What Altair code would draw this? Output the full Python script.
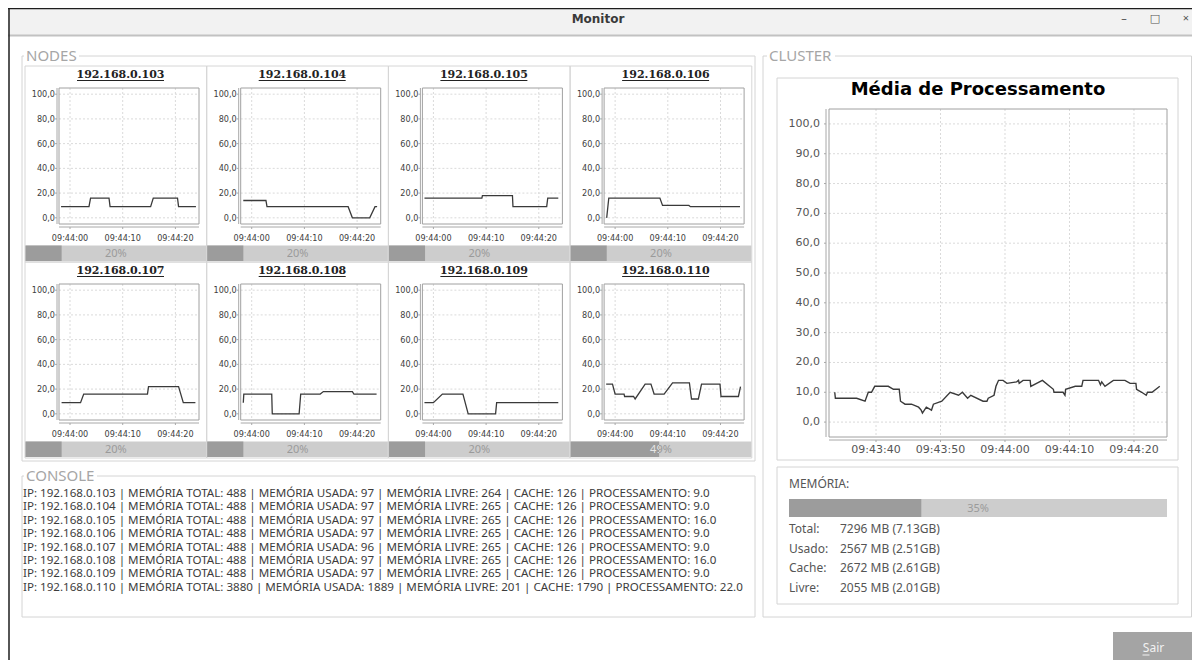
import altair as alt
import pandas as pd
from datetime import datetime, timedelta

# ---------------- data ----------------
NODE_IPS = ["192.168.0.103", "192.168.0.104", "192.168.0.105", "192.168.0.106",
            "192.168.0.107", "192.168.0.108", "192.168.0.109", "192.168.0.110"]
NODE_PCT = [20, 20, 20, 20, 20, 20, 20, 49]

# time in seconds relative to 09:44:00, value = processing %
N103_T = [-1.7, 3.6, 3.9, 7.4, 7.6, 15.3, 15.8, 20.4, 20.6, 23.9]
N103_V = [9, 9, 16, 16, 9, 9, 16, 16, 9, 9]
N104_T = [-1.6, 2.7, 2.9, 18.3, 19.1, 22.4, 23.4, 23.8]
N104_V = [14, 14, 9, 9, 0, 0, 9, 9]
N105_T = [-1.7, 9.2, 9.3, 15.0, 15.1, 21.5, 21.7, 23.7]
N105_V = [16, 16, 18, 18, 9, 9, 16, 16]
N106_T = [-1.6, -1.2, 8.5, 9.0, 14.0, 14.3, 23.7]
N106_V = [0, 16, 16, 10, 10, 9, 9]
N107_T = [-1.6, 2.0, 2.6, 14.7, 14.9, 20.6, 21.5, 23.8]
N107_V = [9, 9, 16, 16, 22, 22, 9, 9]
N108_T = [-1.6, -1.5, 3.8, 3.9, 9.0, 9.3, 13.0, 13.6, 19.1, 19.4, 23.7]
N108_V = [9, 16, 16, 0, 0, 16, 16, 18, 18, 16, 16]
N109_T = [-1.7, 0.0, 1.7, 5.6, 6.6, 11.8, 12.0, 23.7]
N109_V = [9, 9, 16, 16, 0, 0, 9, 9]
N110_T = [-1.7, -0.5, 0.0, 1.7, 1.8, 3.5, 3.8, 5.7, 6.8, 7.4, 9.3, 10.9, 14.1, 14.5,
          15.8, 16.4, 19.9, 20.1, 23.4, 23.8]
N110_V = [24, 24, 16, 16, 14, 14, 12, 24, 24, 16, 16, 25, 25, 12, 12, 24, 24, 14, 14, 22]

CLUSTER_T = [-26.4, -26.3, -23.0, -21.7, -21.2, -20.7, -20.2, -18.1, -17.3, -16.4,
             -16.2, -15.5, -14.5, -13.4, -13.0, -12.8, -12.2, -11.4, -11.1, -9.8,
             -8.5, -7.2, -6.6, -5.8, -5.3, -3.4, -2.8, -2.6, -1.7, -1.4,
             -1.0, -0.3, 0.3, 1.8, 2.1, 2.2, 2.8, 3.9, 4.0, 5.8,
             7.5, 7.6, 9.0, 9.3, 9.4, 10.9, 11.9, 12.1, 14.5, 14.8,
             15.0, 15.5, 16.8, 18.6, 19.4, 20.3, 20.4, 21.2, 21.9, 22.1,
             22.8, 24.0]
CLUSTER_V = [10, 8, 8, 7, 10, 10, 12, 12, 11, 11,
             7, 6, 6, 5, 4, 3, 5, 4, 6, 7,
             10, 9, 10, 8, 9, 7, 7, 8, 9, 12,
             14, 14, 13, 13.5, 14, 13, 14, 14, 12, 14,
             11, 10, 10, 9, 11, 12, 12, 14, 14, 12.5,
             13.5, 12, 14, 14, 13, 13, 11, 10, 9, 10,
             10, 12]

NODE_X_TICKS = ["09:44:00", "09:44:10", "09:44:20"]
NODE_Y_TICKS = [0, 20, 40, 60, 80, 100]
NODE_Y_LABELS = ["0,0", "20,0", "40,0", "60,0", "80,0", "100,0"]
CLUSTER_X_TICKS = ["09:43:40", "09:43:50", "09:44:00", "09:44:10", "09:44:20"]
CLUSTER_Y_TICKS = [0, 10, 20, 30, 40, 50, 60, 70, 80, 90, 100]
CLUSTER_Y_LABELS = ["0,0", "10,0", "20,0", "30,0", "40,0", "50,0",
                    "60,0", "70,0", "80,0", "90,0", "100,0"]

CONSOLE_LINES = [
    "IP: 192.168.0.103 | MEMÓRIA TOTAL: 488 | MEMÓRIA USADA: 97 | MEMÓRIA LIVRE: 264 | CACHE: 126 | PROCESSAMENTO: 9.0",
    "IP: 192.168.0.104 | MEMÓRIA TOTAL: 488 | MEMÓRIA USADA: 97 | MEMÓRIA LIVRE: 265 | CACHE: 126 | PROCESSAMENTO: 9.0",
    "IP: 192.168.0.105 | MEMÓRIA TOTAL: 488 | MEMÓRIA USADA: 97 | MEMÓRIA LIVRE: 265 | CACHE: 126 | PROCESSAMENTO: 16.0",
    "IP: 192.168.0.106 | MEMÓRIA TOTAL: 488 | MEMÓRIA USADA: 97 | MEMÓRIA LIVRE: 265 | CACHE: 126 | PROCESSAMENTO: 9.0",
    "IP: 192.168.0.107 | MEMÓRIA TOTAL: 488 | MEMÓRIA USADA: 96 | MEMÓRIA LIVRE: 265 | CACHE: 126 | PROCESSAMENTO: 9.0",
    "IP: 192.168.0.108 | MEMÓRIA TOTAL: 488 | MEMÓRIA USADA: 97 | MEMÓRIA LIVRE: 265 | CACHE: 126 | PROCESSAMENTO: 16.0",
    "IP: 192.168.0.109 | MEMÓRIA TOTAL: 488 | MEMÓRIA USADA: 97 | MEMÓRIA LIVRE: 265 | CACHE: 126 | PROCESSAMENTO: 9.0",
    "IP: 192.168.0.110 | MEMÓRIA TOTAL: 3880 | MEMÓRIA USADA: 1889 | MEMÓRIA LIVRE: 201 | CACHE: 1790 | PROCESSAMENTO: 22.0",
]

MEM_PCT = 35
MEM_LABELS = ["Total:", "Usado:", "Cache:", "Livre:"]
MEM_VALUES = ["7296 MB (7.13GB)", "2567 MB (2.51GB)", "2672 MB (2.61GB)", "2055 MB (2.01GB)"]

NODE_T = [N103_T, N104_T, N105_T, N106_T, N107_T, N108_T, N109_T, N110_T]
NODE_V = [N103_V, N104_V, N105_V, N106_V, N107_V, N108_V, N109_V, N110_V]

# ---------------- style ----------------
W, H = 1184, 652
UI = "Noto Sans, Open Sans, DejaVu Sans, sans-serif"
NARROW = "Liberation Sans Narrow, DejaVu Sans Condensed, Liberation Sans, sans-serif"
SERIF = "DejaVu Serif, serif"
GRID = "#dadada"
AXIS = "#a8a8a8"
FRAME = "#a0a0a0"
BORDER = "#d4d4d4"
LINE = "#3a3a3a"

BASE = datetime(2024, 1, 1, 9, 44, 0)
base = pd.DataFrame({"d": [0]})


def iso(s):
    return (BASE + timedelta(seconds=s)).strftime("%Y-%m-%dT%H:%M:%S.%f")[:-3]


def dtobj(s):
    d = BASE + timedelta(seconds=s)
    return alt.DateTime(year=d.year, month=d.month, date=d.day, hours=d.hour,
                        minutes=d.minute, seconds=d.second,
                        milliseconds=int(d.microsecond // 1000))


def box(x0, y0, x1, y1, fill="#ffffff", stroke=None, sw=1.0, fo=1.0):
    props = dict(fill=fill, fillOpacity=fo)
    if stroke:
        props.update(stroke=stroke, strokeWidth=sw)
    else:
        props["strokeWidth"] = 0
    return alt.Chart(base).mark_rect(**props).encode(
        x=alt.value(x0), x2=alt.value(x1), y=alt.value(y0), y2=alt.value(y1))


def seg(x0, y0, x1, y1, color, sw=1.0):
    return alt.Chart(base).mark_rule(color=color, strokeWidth=sw).encode(
        x=alt.value(x0), x2=alt.value(x1), y=alt.value(y0), y2=alt.value(y1))


def label(x, y, s, size=12, color="#333333", font=UI, weight="normal",
          align="left", baseline="middle", lh=None):
    props = dict(font=font, fontSize=size, color=color, fontWeight=weight,
                 align=align, baseline=baseline)
    if lh:
        props["lineHeight"] = lh
    return alt.Chart(base).mark_text(**props).encode(
        x=alt.value(x), y=alt.value(y), text=alt.value(s))


def titled_border(x0, y0, x1, y1, text, tx0, tx1):
    return [box(x0, y0, x1, y1, fill="#ffffff", stroke=BORDER, fo=0),
            box(tx0, y0 - 2, tx1, y0 + 2, fill="#ffffff"),
            label(tx0 + 2, y0, text, size=15, color="#a6a6a6")]


def time_panel(ts, vs, fx0, fx1, fy0, fy1, tdom, xticks, yticks, ylabels, ax_y, ax_x,
               lfont, lsize, lcolor, xlab_dy, ylab_dx, lw):
    df = pd.DataFrame({"t": [iso(t) for t in ts], "v": vs})
    xs = alt.Scale(domain=[dtobj(tdom[0]), dtobj(tdom[1])], range=[fx0, fx1])
    ys = alt.Scale(domain=[-5, 105], range=[fy1, fy0], nice=False, zero=False)
    gx = pd.DataFrame({"t": ["2024-01-01T" + s for s in xticks], "lbl": xticks})
    gy = pd.DataFrame({"v": yticks, "lbl": ylabels})
    X = alt.X("t:T", scale=xs, axis=None)
    Y = alt.Y("v:Q", scale=ys, axis=None)
    vgrid = alt.Chart(gx).mark_rule(color=GRID, strokeDash=[2, 2], strokeWidth=1).encode(
        x=X, y=alt.value(fy0), y2=alt.value(fy1))
    hgrid = alt.Chart(gy).mark_rule(color=GRID, strokeDash=[2, 2], strokeWidth=1).encode(
        y=Y, x=alt.value(fx0), x2=alt.value(fx1))
    frame = box(fx0, fy0, fx1, fy1, fill="#ffffff", stroke=FRAME, fo=0)
    xline = seg(fx0, ax_y, fx1, ax_y, AXIS)
    yline = seg(ax_x, fy0, ax_x, fy1, AXIS)
    xtick = alt.Chart(gx).mark_rule(color=AXIS, strokeWidth=1).encode(
        x=X, y=alt.value(ax_y), y2=alt.value(ax_y + 2))
    ytick = alt.Chart(gy).mark_rule(color=AXIS, strokeWidth=1).encode(
        y=Y, x=alt.value(ax_x - 2), x2=alt.value(ax_x))
    xlab = alt.Chart(gx).mark_text(font=lfont, fontSize=lsize, color=lcolor,
                                   align="center", baseline="middle").encode(
        x=X, y=alt.value(ax_y + xlab_dy), text="lbl:N")
    ylab = alt.Chart(gy).mark_text(font=lfont, fontSize=lsize, color=lcolor,
                                   align="right", baseline="middle").encode(
        y=Y, x=alt.value(ax_x - ylab_dx), text="lbl:N")
    line = alt.Chart(df).mark_line(color=LINE, strokeWidth=lw).encode(x=X, y=Y)
    return alt.layer(vgrid, hgrid, frame, xline, yline, xtick, ytick, xlab, ylab, line)


def pbar(pct, x0, x1, y0, y1, size=11, bg="#cdcdcd", fg="#9c9c9c", tc="#9a9a9a",
         light="#e6e6e6", text_w=22.0):
    df = pd.DataFrame({"p": [pct], "z": [0]})
    sc = alt.Scale(domain=[0, 100], range=[x0, x1], nice=False, zero=False)
    back = box(x0, y0, x1, y1, fill=bg)
    front = alt.Chart(df).mark_rect(color=fg, strokeWidth=0).encode(
        x=alt.X("z:Q", scale=sc, axis=None), x2="p:Q",
        y=alt.value(y0), y2=alt.value(y1))
    # text colour switches where the filled part ends
    edge = x0 + (x1 - x0) * pct / 100.0
    cx = (x0 + x1) / 2
    f = min(1.0, max(0.0, 0.5 + (edge - cx) / text_w))
    grad = alt.LinearGradient(gradient="linear", x1=0, x2=1, y1=0, y2=0, stops=[
        alt.GradientStop(offset=0, color=light), alt.GradientStop(offset=f, color=light),
        alt.GradientStop(offset=f, color=tc), alt.GradientStop(offset=1, color=tc)])
    txt = alt.Chart(df).transform_calculate(
        lbl="format(datum.p, 'd') + '%'"
    ).mark_text(font=UI, fontSize=size, fill=grad, align="center", baseline="middle").encode(
        x=alt.value(cx), y=alt.value((y0 + y1) / 2 + 0.5), text="lbl:N")
    return [back, front, txt]


layers = []
# window chrome
layers.append(box(0, 0, W, 27, fill="#f2f2f2"))
layers.append(seg(0, 27.5, W, 27.5, "#c2c2c2", 2))
layers.append(seg(1, 0, 1, H, "#1e1e1e", 1.5))
layers.append(seg(0, 0.5, W, 0.5, "#1e1e1e", 1.5))
layers.append(label(590, 11, "Monitor", size=12, color="#3a3a3a", weight="bold",
                    font="DejaVu Sans, sans-serif", align="center"))
layers.append(label(1116, 11, "–", size=11, color="#555555", align="center"))
layers.append(label(1147, 11, "□", size=11, color="#555555", align="center"))
layers.append(label(1178, 11, "×", size=11, color="#555555", align="center"))

# NODES group
layers += titled_border(14, 48, 747, 453, "NODES", 16, 71)
CW = 181.7
for k in range(8):
    col, row = k % 4, k // 4
    cx = 17 + CW * col
    ry = 196 * row
    layers.append(box(cx, 58 + ry, cx + CW, 254 + ry, fill="#ffffff", stroke="#d6d6d6", fo=0))
    layers.append(label(cx + 95.5, 66.5 + ry, NODE_IPS[k], size=11, color="#222222",
                        font=SERIF, weight="bold", align="center"))
    layers.append(seg(cx + 52, 72.5 + ry, cx + 139, 72.5 + ry, "#222222", 1))
    layers.append(time_panel(NODE_T[k], NODE_V[k], cx + 34, cx + 174, 80 + ry, 216 + ry,
                             (-2.09, 24.48), NODE_X_TICKS, NODE_Y_TICKS, NODE_Y_LABELS,
                             219 + ry, cx + 32, NARROW, 9, "#404040", 11, 2, 1.3))
    layers += pbar(NODE_PCT[k], cx + 0.5, cx + CW - 0.5, 237.5 + ry, 253 + ry)

# CONSOLE group
layers += titled_border(14, 468, 747, 609, "CONSOLE", 16, 89)
layers.append(label(15, 486, CONSOLE_LINES, size=11.6, color="#3c3c3c", lh=13.4))

# CLUSTER group
layers += titled_border(755, 48, 1183.5, 609, "CLUSTER", 759, 827)
layers.append(box(769, 70, 1170, 452, fill="#ffffff", stroke=BORDER))
layers.append(label(970, 82, "Média de Processamento", size=18, color="#000000",
                    font="DejaVu Sans, sans-serif", weight="bold", align="center"))
layers.append(time_panel(CLUSTER_T, CLUSTER_V, 821, 1159, 101, 429,
                         (-27.29, 25.12), CLUSTER_X_TICKS, CLUSTER_Y_TICKS, CLUSTER_Y_LABELS,
                         432, 818, "DejaVu Sans, sans-serif", 11, "#555555", 10, 6, 1.4))

# memory panel
layers.append(box(769, 459, 1170, 596, fill="#ffffff", stroke=BORDER))
layers.append(label(781, 476, "MEMÓRIA:", size=12, color="#555555"))
layers += pbar(MEM_PCT, 781, 1159, 491, 509, size=11)
layers.append(label(781, 521, MEM_LABELS, size=12, color="#555555", lh=19.5))
layers.append(label(832, 521, MEM_VALUES, size=12, color="#555555", lh=19.5))

# button
layers.append(box(1105, 624, 1186, 655, fill="#a4a4a4"))
layers.append(label(1145.5, 640, "Sair", size=12, color="#f2f2f2", align="center"))
layers.append(seg(1134.5, 647, 1141.5, 647, "#f2f2f2", 1))

chart = alt.layer(*layers).resolve_scale(
    x="independent", y="independent"
).properties(
    width=W, height=H, autosize=alt.AutoSizeParams(type="none"), padding=0,
    background="#ffffff"
).configure_view(strokeWidth=0)

chart.save("out.html", embed_options={"renderer": "svg", "actions": False})
